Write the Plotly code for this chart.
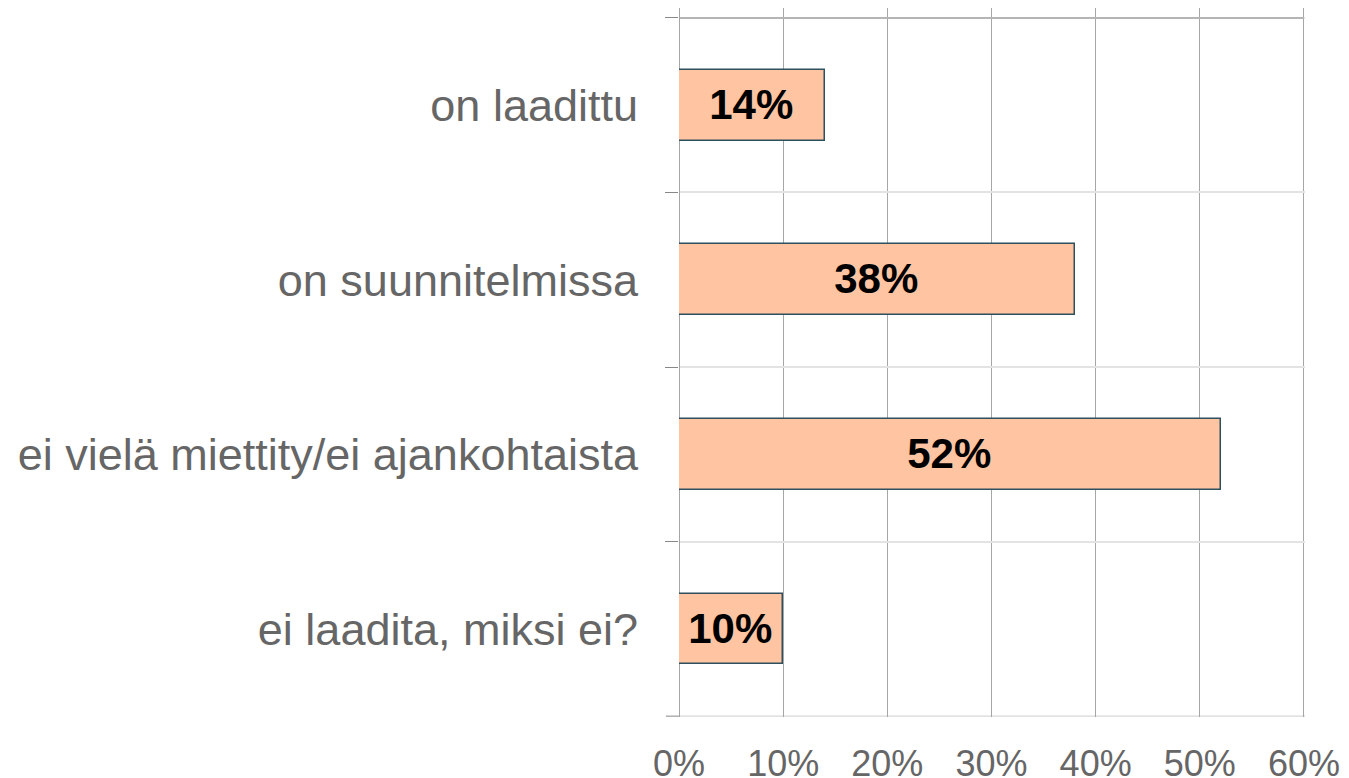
import plotly.graph_objects as go

# survey answers, top to bottom
categories = ["on laadittu", "on suunnitelmissa",
              "ei vielä miettity/ei ajankohtaista", "ei laadita, miksi ei?"]
shares = [14, 38, 52, 10]
x_ticks = [0, 10, 20, 30, 40, 50, 60]
x_tick_labels = ["0%", "10%", "20%", "30%", "40%", "50%", "60%"]

font_family = "Liberation Sans, Arial, sans-serif"

# the page body has an 8px margin, so the figure is drawn 8px smaller
fig = go.Figure(go.Bar(
    x=shares,
    y=categories,
    orientation="h",
    width=0.405,
    marker=dict(color="#FFC4A1", line=dict(color="#2E4F5E", width=1.5)),
    text=[f"{v}%" for v in shares],
    textposition="inside",
    insidetextanchor="middle",
    constraintext="none",
    textfont=dict(family=font_family, size=42, color="black", weight="bold"),
    cliponaxis=False,
))

fig.update_layout(
    width=1341, height=770,
    margin=dict(l=671, r=44, t=0, b=61),
    plot_bgcolor="white",
    paper_bgcolor="white",
    showlegend=False,
    bargap=0,
    font=dict(family=font_family, color="#666666"),
)

fig.update_xaxes(
    range=[0, 60.1],  # a hair past 60 so the last gridline is kept
    tickvals=x_ticks,
    ticktext=x_tick_labels,
    tickfont=dict(size=36, color="#666666"),
    showgrid=True, gridcolor="#A6A6A6", gridwidth=1,
    zeroline=True, zerolinecolor="#A6A6A6", zerolinewidth=1,
    showline=False,
    ticks="", ticklabelstandoff=22,
    automargin=False,
)

fig.update_yaxes(
    type="category",
    categoryorder="array", categoryarray=categories,
    range=[3.505, -0.557],
    tickson="boundaries",
    ticks="outside", ticklen=13, tickcolor="#888888", tickwidth=1,
    tickfont=dict(size=45, color="#666666"),
    ticklabelstandoff=40,
    showgrid=True, gridcolor="#E3E3E3", gridwidth=2,
    zeroline=False, showline=False,
    automargin=False,
)

# darker frame line along the top of the category band
fig.add_shape(type="line", xref="x", yref="y", x0=0, x1=60, y0=-0.5, y1=-0.5,
              line=dict(color="#A6A6A6", width=1.5))
# light bottom line with its small tick, in case the edge gridline is dropped
fig.add_shape(type="line", xref="paper", yref="y", x0=0, x1=1, y0=3.5, y1=3.5,
              line=dict(color="#E3E3E3", width=2), layer="below")
fig.add_shape(type="line", xref="paper", yref="y", x0=-0.021, x1=0, y0=3.5, y1=3.5,
              line=dict(color="#888888", width=1))

fig.write_html("out.html")
